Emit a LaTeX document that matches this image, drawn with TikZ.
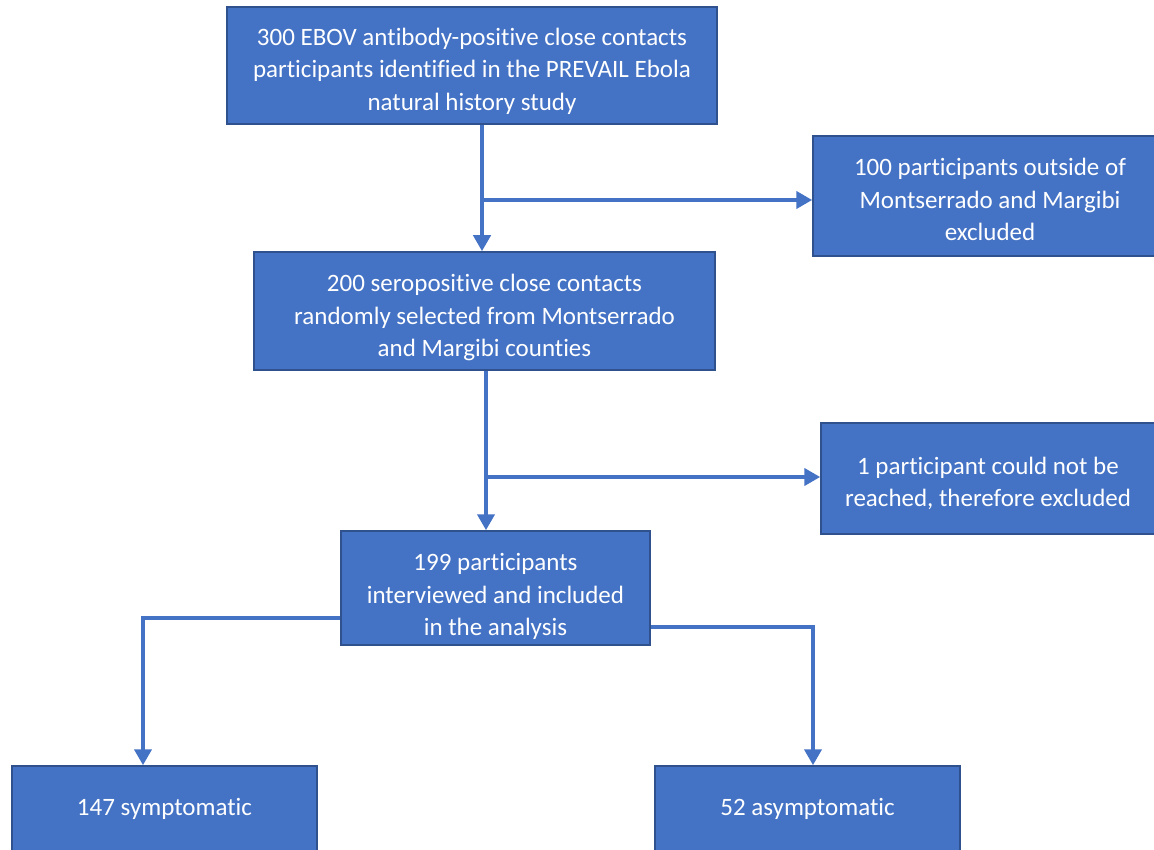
\documentclass[tikz,border=0pt]{standalone}
\usepackage{fontspec}
\setmainfont[Ligatures={NoCommon}]{Carlito}
\usetikzlibrary{arrows.meta}
\definecolor{boxfill}{HTML}{4472C4}
\definecolor{boxline}{HTML}{2F528F}
\newcommand\lift[1]{\rule{0pt}{#1}}
\tikzset{
  box/.style={draw=boxline, line width=1.5pt, fill=boxfill, text=white, align=center,
    font=\fontsize{25}{32.5}\selectfont, inner sep=0pt},
  conn/.style={draw=boxfill, line width=4pt},
  arr/.style={conn, -{Triangle[length=16pt,width=17pt]}}
}
\begin{document}
\begin{tikzpicture}[x=1pt,y=-1pt]
\useasboundingbox (0,0) rectangle (1154,850);
\clip (0,0) rectangle (1154,850);
\node[box, minimum width=490pt, minimum height=117pt] (a) at (472,65.5)
  {\lift{29pt}300 EBOV antibody-positive close contacts\\participants identified in the PREVAIL Ebola\\natural history study};
\node[box, minimum width=354pt, minimum height=120pt] (b) at (990,196)
  {\lift{25pt}100 participants outside of\\Montserrado and Margibi\\excluded};
\node[box, minimum width=461pt, minimum height=118pt] (c) at (484.5,311)
  {\lift{31pt}200 seropositive close contacts\\randomly selected from Montserrado\\and Margibi counties};
\node[box, minimum width=334pt, minimum height=111pt] (d) at (988,478.5)
  {\lift{27pt}1 participant could not be\\reached, therefore excluded};
\node[box, minimum width=309pt, minimum height=114pt] (e) at (495.5,588)
  {\lift{35pt}199 participants\\interviewed and included\\in the analysis};
\node[box, minimum width=305pt, minimum height=86pt] (f) at (164.5,809)
  {147 symptomatic};
\node[box, minimum width=305pt, minimum height=86pt] (g) at (807.5,809)
  {52 asymptomatic};
% connectors
\coordinate (j1) at (482,200);
\coordinate (j2) at (486,477);
\draw[arr] (a.south -| j1) -- (c.north -| j1);
\draw[arr] (j1) -- (b.west |- j1);
\draw[arr] (c.south -| j2) -- (e.north -| j2);
\draw[arr] (j2) -- (d.west |- j2);
\coordinate (l1) at (143,618);
\coordinate (r1) at (813,627);
\draw[arr] (e.west |- l1) -- (l1) -- (f.north -| l1);
\draw[arr] (e.east |- r1) -- (r1) -- (g.north -| r1);
\end{tikzpicture}
\end{document}
